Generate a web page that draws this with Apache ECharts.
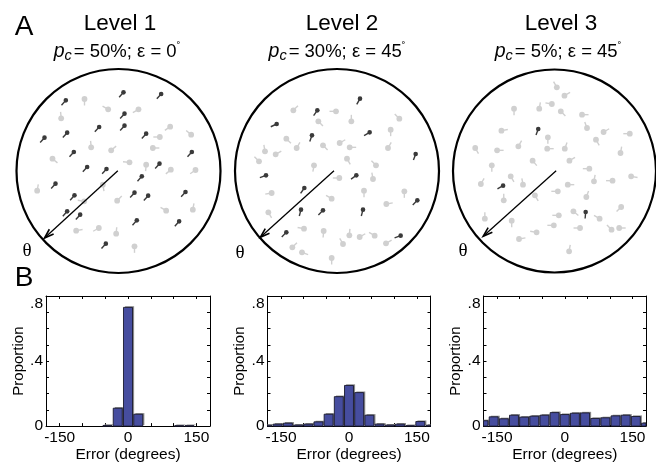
<!DOCTYPE html>
<html><head><meta charset="utf-8">
<script src="https://cdn.jsdelivr.net/npm/echarts@6/dist/echarts.min.js"></script>
<style>html,body{margin:0;padding:0;background:#fff}#c{width:656px;height:464px}</style>
</head><body><div id="c"></div>
<script>
// ---------- data ----------
const levelTitles = ['Level 1', 'Level 2', 'Level 3'];
const coherence = ['50%', '30%', '5%'];
const noiseDeg = ['0', '45', '45'];

// histogram bins (degrees) and proportions
const binCenters = [-180, -157.5, -135, -112.5, -90, -67.5, -45, -22.5, 0, 22.5, 45, 67.5, 90, 112.5, 135, 157.5, 180];
const propLevel1 = [0, 0, 0, 0, 0, 0, 0.004, 0.11, 0.73, 0.073, 0, 0, 0, 0.003, 0.003, 0, 0];
const propLevel2 = [0.005, 0.012, 0.018, 0.006, 0.012, 0.026, 0.073, 0.181, 0.25, 0.206, 0.067, 0.012, 0.006, 0.012, 0.003, 0.028, 0.005];
const propLevel3 = [0.033, 0.057, 0.045, 0.067, 0.055, 0.061, 0.067, 0.083, 0.071, 0.079, 0.081, 0.047, 0.051, 0.063, 0.067, 0.059, 0.018];
const binHalfWidth = 9.9;
const xTickValues = [-150, -100, -50, 0, 50, 100, 150];
const xLabelValues = [-150, 0, 150];
const yLabelValues = [0, 0.4, 0.8];

// stimulus aperture frame (units, y downward): centre and radius
const apertureCenters = [[310, 309], [312, 309], [315, 309]];
const apertureRadius = 306;
// arrow: start x, start y, end x, end y
const arrows = [[308, 308, 88, 510], [303, 308, 82, 508], [320, 308, 100, 505]];

// dots: [x, y, direction in degrees]
const lightDots1 = [[208,93,270],[279,124,150],[370,124,210],[138,151,95],[465,176,215],[434,207,180],[528,200,140],[228,238,95],[288,247,40],[112,272,320],[413,240,0],[343,283,175],[393,290,265],[467,305,220],[541,306,215],[66,368,80],[263,350,280],[306,398,45],[207,400,170],[453,428,150],[533,425,80],[183,488,10],[251,480,210],[303,497,85],[358,535,270]];
const darkDots1 = [[325,73,228],[438,78,228],[152,97,228],[328,137,228],[328,173,228],[252,177,228],[156,194,228],[393,197,228],[88,209,228],[176,252,228],[530,252,228],[216,297,228],[274,303,228],[433,287,228],[380,325,228],[121,347,228],[178,382,228],[358,374,228],[399,383,228],[511,372,228],[156,430,228],[195,440,228],[365,457,228],[492,460,228],[272,527,228]];
const lightDots2 = [[181,127,45],[309,130,180],[256,160,315],[355,160,90],[499,152,135],[473,185,270],[160,212,315],[191,240,60],[96,250,100],[128,259,30],[78,280,135],[270,232,315],[320,225,30],[350,238,0],[465,240,60],[342,272,300],[429,292,135],[243,292,260],[319,330,180],[420,333,100],[116,375,190],[296,392,150],[393,368,270],[514,370,270],[460,408,10],[106,433,300],[213,482,170],[272,489,265],[349,502,85],[380,507,30],[425,503,150],[459,526,30],[178,538,45],[207,553,340],[296,570,270],[330,528,120]];
const darkDots2 = [[381,92,240],[253,127,235],[131,168,205],[237,202,250],[410,193,210],[548,258,250],[99,322,200],[370,322,215],[214,360,235],[204,425,255],[270,427,225],[390,425,255],[553,397,225],[160,493,225],[503,503,200]];
const lightDots3 = [[322,58,120],[345,83,30],[193,122,270],[269,122,80],[307,108,170],[334,130,315],[398,140,0],[413,180,110],[155,188,10],[295,208,270],[463,192,30],[542,197,180],[440,215,300],[76,240,300],[142,247,0],[206,235,60],[293,242,0],[346,242,70],[514,255,80],[126,292,270],[249,278,310],[360,278,30],[420,302,180],[183,325,300],[220,350,100],[93,348,60],[355,350,0],[434,340,80],[490,338,180],[546,325,350],[256,382,300],[325,370,180],[411,387,70],[162,397,90],[372,430,320],[328,442,180],[516,417,225],[105,452,90],[186,458,270],[313,472,180],[392,480,180],[451,452,150],[487,485,135],[510,480,0],[208,513,10],[261,493,170],[359,550,80]];
const darkDots3 = [[266,183,250],[160,353,210],[409,432,265]];

// ---------- build ----------
const FONT = '"Liberation Sans", Arial, Helvetica, sans-serif';
const SERIF = '"Liberation Serif", "DejaVu Serif", serif';
const lightDots = [lightDots1, lightDots2, lightDots3];
const darkDots = [darkDots1, darkDots2, darkDots3];
const props = [propLevel1, propLevel2, propLevel3];

function dotRenderer(color, r, len, lw) {
  return function (params, api) {
    const p = api.coord([api.value(0), api.value(1)]);
    const a = api.value(2) * Math.PI / 180;
    const ex = p[0] + len * Math.cos(a), ey = p[1] - len * Math.sin(a);
    return { type: 'group', children: [
      { type: 'line', shape: { x1: p[0], y1: p[1], x2: ex, y2: ey }, style: { stroke: color, lineWidth: lw } },
      { type: 'circle', shape: { cx: p[0], cy: p[1], r: r }, style: { fill: color } }
    ] };
  };
}
function circleRenderer(params, api) {
  const c = api.coord([api.value(0), api.value(1)]);
  const r = api.size([api.value(2), 0])[0];
  return { type: 'circle', shape: { cx: c[0], cy: c[1], r: r }, style: { fill: 'none', stroke: '#000', lineWidth: 2.2 } };
}
function arrowRenderer(params, api) {
  const s = api.coord([api.value(0), api.value(1)]);
  const e = api.coord([api.value(2), api.value(3)]);
  const ang = Math.atan2(e[1] - s[1], e[0] - s[0]);
  const L = 10, w = 0.32;
  const p1 = [e[0] - L * Math.cos(ang - w), e[1] - L * Math.sin(ang - w)];
  const p2 = [e[0] - L * Math.cos(ang + w), e[1] - L * Math.sin(ang + w)];
  return { type: 'group', children: [
    { type: 'line', shape: { x1: s[0], y1: s[1], x2: e[0], y2: e[1] }, style: { stroke: '#000', lineWidth: 1.3 } },
    { type: 'polyline', shape: { points: [p1, e, p2] }, style: { stroke: '#000', lineWidth: 1.6, fill: 'none' } }
  ] };
}
function barRenderer(params, api) {
  const c = api.value(0), v = api.value(1);
  if (!(v > 0)) return null;
  const p0 = api.coord([c - binHalfWidth, 0]);
  const p1 = api.coord([c + binHalfWidth, v]);
  const cs = params.coordSys;
  const box = { x: cs.x, y: cs.y, width: cs.width, height: cs.height };
  const rect = { x: p0[0], y: p1[1], width: p1[0] - p0[0], height: p0[1] - p1[1] };
  const shadow = echarts.graphic.clipRectByRect({ x: rect.x + 1.6, y: rect.y - 1.1, width: rect.width, height: rect.height }, box);
  const main = echarts.graphic.clipRectByRect(rect, box);
  const children = [];
  if (shadow) children.push({ type: 'rect', shape: shadow, style: { fill: '#8a8a8a' } });
  if (main) children.push({ type: 'rect', shape: main, style: { fill: '#464d9f', stroke: '#1a1a2e', lineWidth: 0.9 } });
  return { type: 'group', children: children };
}

const grids = [], xAxes = [], yAxes = [], series = [];
const circleLeft = [16.5, 235, 453];
for (let k = 0; k < 3; k++) {
  grids.push({ left: circleLeft[k], top: 69, width: 204, height: 204 });
  const c = apertureCenters[k];
  xAxes.push({ type: 'value', gridIndex: k, min: c[0] - apertureRadius, max: c[0] + apertureRadius, show: false });
  yAxes.push({ type: 'value', gridIndex: k, min: c[1] - apertureRadius, max: c[1] + apertureRadius, inverse: true, show: false });
  series.push({ type: 'custom', xAxisIndex: k, yAxisIndex: k, silent: true, data: lightDots[k], renderItem: dotRenderer('#d0d0d0', 2.9, 6.5, 1.4) });
  series.push({ type: 'custom', xAxisIndex: k, yAxisIndex: k, silent: true, data: darkDots[k], renderItem: dotRenderer('#3a3a3a', 2.3, 6.5, 1.4) });
  series.push({ type: 'custom', xAxisIndex: k, yAxisIndex: k, silent: true, data: [[c[0], c[1], apertureRadius]], renderItem: circleRenderer });
  series.push({ type: 'custom', xAxisIndex: k, yAxisIndex: k, silent: true, data: [arrows[k]], renderItem: arrowRenderer });
}

const histLeft = [46, 267.5, 483.5];
const histWidth = [164, 163, 162.5];
const axisLineStyle = { color: '#000', width: 1 };
for (let k = 0; k < 3; k++) {
  const g = grids.length;
  grids.push({ left: histLeft[k], top: 296, width: histWidth[k], height: 131 });
  const xb = xAxes.length;
  xAxes.push({ type: 'value', gridIndex: g, position: 'bottom', min: -180, max: 180,
    axisLine: { show: true, onZero: false, lineStyle: axisLineStyle },
    axisTick: { show: true, inside: true, length: 3, customValues: xTickValues, lineStyle: axisLineStyle },
    axisLabel: { show: true, customValues: xLabelValues, formatter: v => String(v), fontSize: 15.5, fontFamily: FONT, color: '#000', margin: 4 },
    splitLine: { show: false },
    name: 'Error (degrees)', nameLocation: 'middle', nameGap: 15,
    nameTextStyle: { fontSize: 15.5, fontFamily: FONT, color: '#000', verticalAlign: 'top' } });
  xAxes.push({ type: 'value', gridIndex: g, position: 'top', min: -180, max: 180,
    axisLine: { show: true, onZero: false, lineStyle: axisLineStyle },
    axisTick: { show: true, inside: true, length: 3, customValues: xTickValues, lineStyle: axisLineStyle },
    axisLabel: { show: false }, splitLine: { show: false } });
  const yl = yAxes.length;
  yAxes.push({ type: 'value', gridIndex: g, position: 'left', min: 0, max: 0.8, interval: 0.1,
    axisLine: { show: true, onZero: false, lineStyle: axisLineStyle },
    axisTick: { show: true, inside: true, length: 3, lineStyle: axisLineStyle },
    axisLabel: { show: true, customValues: yLabelValues, fontSize: 15.5, fontFamily: FONT, color: '#000', margin: 3,
      verticalAlignMaxLabel: 'top',
      formatter: v => (Math.round(v * 10) === 0 ? '0' : '.' + Math.round(v * 10)) },
    splitLine: { show: false },
    name: 'Proportion', nameLocation: 'middle', nameGap: 19,
    nameTextStyle: { fontSize: 15, fontFamily: FONT, color: '#000' } });
  yAxes.push({ type: 'value', gridIndex: g, position: 'right', min: 0, max: 0.8, interval: 0.1,
    axisLine: { show: true, onZero: false, lineStyle: axisLineStyle },
    axisTick: { show: true, inside: true, length: 3, lineStyle: axisLineStyle },
    axisLabel: { show: false }, splitLine: { show: false } });
  series.push({ type: 'custom', xAxisIndex: xb, yAxisIndex: yl, silent: true, z: 1,
    data: binCenters.map((c, i) => [c, props[k][i]]), renderItem: barRenderer });
}

// ---------- text ----------
const titleX = [120, 342, 561];
const subX = [117, 337, 558];
const thetaPos = [[27, 251], [240, 253], [463, 251]];
const graphic = [
  { type: 'text', x: 24, y: 27, style: { text: 'A', fontSize: 28, fontFamily: FONT, fill: '#000', align: 'center', verticalAlign: 'middle' } },
  { type: 'text', x: 24, y: 278, style: { text: 'B', fontSize: 28, fontFamily: FONT, fill: '#000', align: 'center', verticalAlign: 'middle' } }
];
for (let k = 0; k < 3; k++) {
  graphic.push({ type: 'text', x: titleX[k], y: 24, style: { text: levelTitles[k], fontSize: 22.5, fontFamily: FONT, fill: '#000', align: 'center', verticalAlign: 'middle' } });
  graphic.push({ type: 'text', x: subX[k], y: 52, style: {
    text: '{p|p}{c|c}{n|= ' + coherence[k] + '; ε = ' + noiseDeg[k] + '}{d|˚}',
    align: 'center', verticalAlign: 'middle', fontFamily: FONT, fill: '#000',
    rich: {
      p: { fontSize: 19.5, fontStyle: 'italic', fontFamily: FONT, lineHeight: 22, verticalAlign: 'middle' },
      c: { fontSize: 14.5, fontStyle: 'italic', fontFamily: FONT, lineHeight: 22, verticalAlign: 'bottom', padding: [0, 2, 0, 0] },
      n: { fontSize: 18.5, fontFamily: FONT, lineHeight: 22, verticalAlign: 'middle' },
      d: { fontSize: 11, fontFamily: FONT, lineHeight: 22, verticalAlign: 'top' }
    } } });
  graphic.push({ type: 'text', x: thetaPos[k][0], y: thetaPos[k][1], style: { text: 'θ', fontSize: 19, fontFamily: SERIF, fill: '#000', align: 'center', verticalAlign: 'middle' } });
}

const chart = echarts.init(document.getElementById('c'), null, { renderer: 'canvas' });
chart.setOption({ animation: false, backgroundColor: '#fff', grid: grids, xAxis: xAxes, yAxis: yAxes, series: series, graphic: graphic });
</script></body></html>
